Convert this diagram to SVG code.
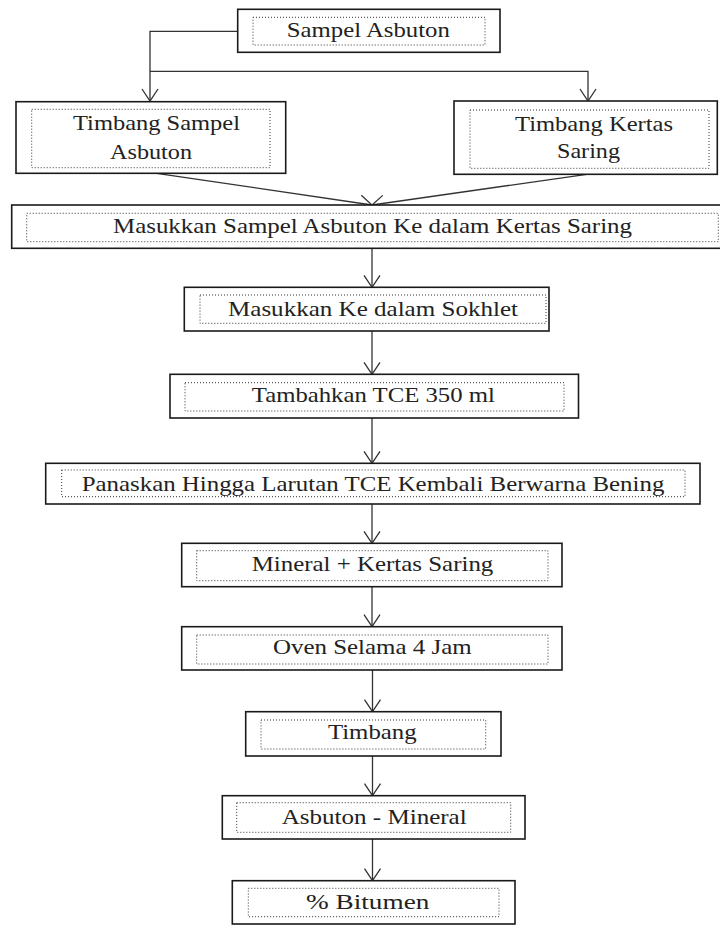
<svg xmlns="http://www.w3.org/2000/svg" width="720" height="925" viewBox="0 0 720 925">
<defs>
<marker id="arr" markerUnits="userSpaceOnUse" markerWidth="20" markerHeight="20" refX="0" refY="0" viewBox="-10 -10 20 20" orient="auto" overflow="visible">
<path d="M -12 -8 L 0 0 L -12 8" fill="none" stroke="#333" stroke-width="1.3"/>
</marker>
<style>
.o{fill:#fff;stroke:#1a1a1a;stroke-width:1.6}
.i{fill:none;stroke:#333;stroke-width:1;stroke-dasharray:1 2}
.t{font-family:"Liberation Serif","Times New Roman",serif;font-size:22px;fill:#222;text-anchor:middle}
.c{fill:none;stroke:#333;stroke-width:1.3}
</style>
</defs>
<rect width="720" height="925" fill="#fff"/>
<g id="connectors">
<path class="c" d="M237.7 31.3 H150 V101" marker-end="url(#arr)"/>
<path class="c" d="M150 71.3 H588 V101" marker-end="url(#arr)"/>
<path class="c" d="M156.7 173.3 L372 205" marker-end="url(#arr)"/>
<path class="c" d="M586.7 174.3 L372 205" marker-end="url(#arr)"/>
<path class="c" d="M372 248.3 V287.3" marker-end="url(#arr)"/>
<path class="c" d="M372 331 V374.3" marker-end="url(#arr)"/>
<path class="c" d="M372 418 V463.3" marker-end="url(#arr)"/>
<path class="c" d="M372 504 V543.3" marker-end="url(#arr)"/>
<path class="c" d="M372 587 V626.7" marker-end="url(#arr)"/>
<path class="c" d="M372.5 670 V711.7" marker-end="url(#arr)"/>
<path class="c" d="M372.5 756 V795.7" marker-end="url(#arr)"/>
<path class="c" d="M372.5 839 V880.7" marker-end="url(#arr)"/>
</g>
<g id="n1">
<rect class="o" x="237.7" y="9.3" width="262.3" height="43"/>
<rect class="i" x="253" y="17.3" width="232" height="27.7"/>
<text class="t" x="368.3" y="37" textLength="163" lengthAdjust="spacingAndGlyphs">Sampel Asbuton</text>
</g>
<g id="n2">
<rect class="o" x="16" y="101.7" width="269.7" height="71.6"/>
<rect class="i" x="31.7" y="109.3" width="238.3" height="58.4"/>
<text class="t" x="156.5" y="129.5" textLength="167" lengthAdjust="spacingAndGlyphs">Timbang Sampel</text>
<text class="t" x="151" y="158.5" textLength="82" lengthAdjust="spacingAndGlyphs">Asbuton</text>
</g>
<g id="n3">
<rect class="o" x="454" y="101" width="263.3" height="73.3"/>
<rect class="i" x="470" y="110" width="239" height="58.3"/>
<text class="t" x="594" y="130.5" textLength="158" lengthAdjust="spacingAndGlyphs">Timbang Kertas</text>
<text class="t" x="588.5" y="157.5" textLength="63" lengthAdjust="spacingAndGlyphs">Saring</text>
</g>
<g id="n4">
<rect class="o" x="11.7" y="205" width="722" height="43.3"/>
<rect class="i" x="26.7" y="213.3" width="691.6" height="28.4"/>
<text class="t" x="372.5" y="232.5" textLength="519" lengthAdjust="spacingAndGlyphs">Masukkan Sampel Asbuton Ke dalam Kertas Saring</text>
</g>
<g id="n5">
<rect class="o" x="184.3" y="287.3" width="364.7" height="43.7"/>
<rect class="i" x="200" y="295" width="346" height="28.3"/>
<text class="t" x="373" y="315.5" textLength="290" lengthAdjust="spacingAndGlyphs">Masukkan Ke dalam Sokhlet</text>
</g>
<g id="n6">
<rect class="o" x="170" y="374.3" width="408.5" height="43.7"/>
<rect class="i" x="185" y="382.7" width="379" height="28.3"/>
<text class="t" x="373.3" y="401.5" textLength="243" lengthAdjust="spacingAndGlyphs">Tambahkan TCE 350 ml</text>
</g>
<g id="n7">
<rect class="o" x="45.7" y="463.3" width="654.3" height="40.7"/>
<rect class="i" x="61.7" y="470" width="623.3" height="26.7"/>
<text class="t" x="373" y="490.5" textLength="582.7" lengthAdjust="spacingAndGlyphs">Panaskan Hingga Larutan TCE Kembali Berwarna Bening</text>
</g>
<g id="n8">
<rect class="o" x="181.7" y="543.3" width="380.3" height="43.4"/>
<rect class="i" x="196.7" y="550.7" width="351.3" height="30"/>
<text class="t" x="372.5" y="570.5" textLength="241.6" lengthAdjust="spacingAndGlyphs">Mineral + Kertas Saring</text>
</g>
<g id="n9">
<rect class="o" x="181.7" y="626.7" width="380.3" height="43.3"/>
<rect class="i" x="196.7" y="635" width="351.3" height="29"/>
<text class="t" x="372.3" y="654" textLength="198.7" lengthAdjust="spacingAndGlyphs">Oven Selama 4 Jam</text>
</g>
<g id="n10">
<rect class="o" x="245.7" y="711.7" width="255.3" height="44.3"/>
<rect class="i" x="261" y="720" width="224.7" height="29"/>
<text class="t" x="372.3" y="739" textLength="88.7" lengthAdjust="spacingAndGlyphs">Timbang</text>
</g>
<g id="n11">
<rect class="o" x="222.3" y="795.7" width="302.7" height="43.3"/>
<rect class="i" x="236.7" y="802.7" width="274" height="29.6"/>
<text class="t" x="374.2" y="824" textLength="185" lengthAdjust="spacingAndGlyphs">Asbuton - Mineral</text>
</g>
<g id="n12">
<rect class="o" x="232.3" y="880.7" width="282.7" height="43.3"/>
<rect class="i" x="248.3" y="888.3" width="250.7" height="28.4"/>
<text class="t" x="367.7" y="909" textLength="123.3" lengthAdjust="spacingAndGlyphs">% Bitumen</text>
</g>
</svg>
